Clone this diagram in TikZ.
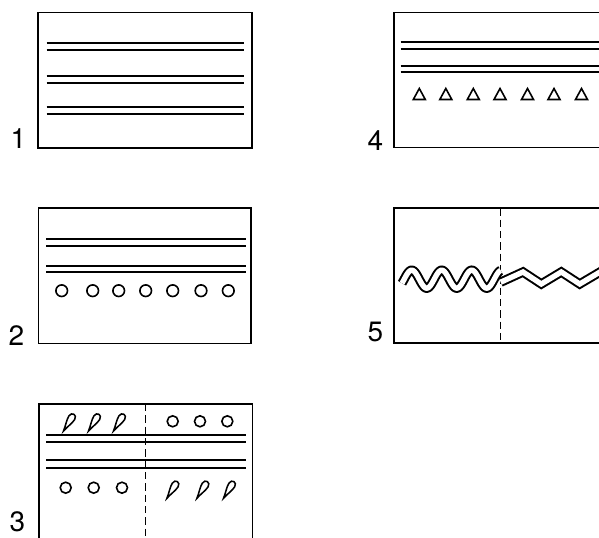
\documentclass[tikz,border=0pt]{standalone}
\usepackage{fontspec}
\setmainfont{TeX Gyre Heros}
\begin{document}
\begin{tikzpicture}[x=0.75pt,y=-0.75pt,
  frame/.style={line width=1.2pt},
  rule/.style={line width=1.4pt},
  dot/.style={line width=1.2pt},
  sep/.style={line width=0.85pt, dash pattern=on 5.5pt off 3pt},
  lbl/.style={font=\fontsize{21}{21}\selectfont, inner sep=0pt},
  dblout/.style={line width=7pt, line join=miter},
  dblin/.style={line width=4pt, white, line join=miter},
  leaf/.pic={\draw[line width=1.15pt] (0,10) .. controls (-1,4) and (-3.4,-1) .. (-3.4,-5.7) .. controls (-3.4,-11) and (3.4,-11) .. (3.4,-5.7) .. controls (3.4,-1) and (1,4) .. (0,10) -- cycle;},
  tri/.pic={\draw[line width=1.2pt, line join=miter] (-6,5.5) -- (0,-5.5) -- (6,5.5) -- cycle;}
]
\useasboundingbox (0,0) rectangle (599,538);
\clip (0,0) rectangle (599,538);

% ---------- Box 1 ----------
\draw[frame] (37.7,12.7) rectangle (251.7,148.3);
\draw[rule] (46.7,43.3) -- (244.3,43.3);
\draw[rule] (46.7,50.3) -- (244.3,50.3);
\draw[rule] (46.7,76) -- (244.3,76);
\draw[rule] (46.7,82.7) -- (244.3,82.7);
\draw[rule] (46.7,107.3) -- (244.3,107.3);
\draw[rule] (46.7,113.7) -- (244.3,113.7);
\node[lbl] (l1) at (18.5,138.5) {1};

% ---------- Box 2 ----------
\draw[frame] (38.3,208.3) rectangle (251,343.3);
\draw[rule] (46,239.3) -- (246,239.3);
\draw[rule] (46,246) -- (246,246);
\draw[rule] (46,266) -- (246,266);
\draw[rule] (46,271.7) -- (246,271.7);
\foreach \cx in {61.7,92.7,118.7,145.7,172.7,201,228.3}
  \draw[dot] (\cx,290.7) circle[radius=5.8];
\node[lbl] (l2) at (16.5,335.5) {2};

% ---------- Box 3 ----------
\draw[frame] (39,404) rectangle (252.3,560);
\draw[sep] (145.7,404) -- (145.7,560);
\draw[rule] (46,435) -- (245.7,435);
\draw[rule] (46,442) -- (245.7,442);
\draw[rule] (46,460.3) -- (245.7,460.3);
\draw[rule] (46,468.3) -- (245.7,468.3);
\foreach \cx in {68.8,93.8,118.8}
  \pic[rotate=-32] at (\cx,422.5) {leaf};
\foreach \cx in {172.7,200,227.3}
  \draw[dot] (\cx,421.3) circle[radius=5.5];
\foreach \cx in {65.7,93.7,122}
  \draw[dot] (\cx,487.7) circle[radius=5.5];
\foreach \cx in {172.2,202.2,228.8}
  \pic[rotate=-32] at (\cx,489.8) {leaf};
\node[lbl] (l3) at (17.5,522) {3};

% ---------- Box 4 ----------
\draw[frame] (394,12.7) rectangle (640,147.7);
\draw[rule] (400.7,41.7) -- (640,41.7);
\draw[rule] (400.7,48.7) -- (640,48.7);
\draw[rule] (400.7,65.7) -- (640,65.7);
\draw[rule] (400.7,72.3) -- (640,72.3);
\foreach \cx in {419.3,445.8,473.3,500,527.5,554,581.5}
  \pic at (\cx,94) {tri};
\node[lbl] (l4) at (375.5,140.5) {4};

% ---------- Box 5 ----------
\draw[frame] (394,208.3) rectangle (640,342.7);
\draw[sep] (500.7,208.3) -- (500.7,342.7);
\draw[dblout] plot[domain=402:500.7, samples=120, smooth] (\x,{279.2-9*cos(12*(\x-411.7))});
\draw[dblin] plot[domain=402:500.7, samples=120, smooth] (\x,{279.2-9*cos(12*(\x-411.7))});
\draw[dblout] (500.7,282.2) -- (523,272) -- (541.3,284) -- (561.3,272) -- (579.7,284) -- (600,272) -- (620,284);
\draw[dblin] (500.7,282.2) -- (523,272) -- (541.3,284) -- (561.3,272) -- (579.7,284) -- (600,272) -- (620,284);
\node[lbl] (l5) at (375.5,331.5) {5};
\end{tikzpicture}
\end{document}
